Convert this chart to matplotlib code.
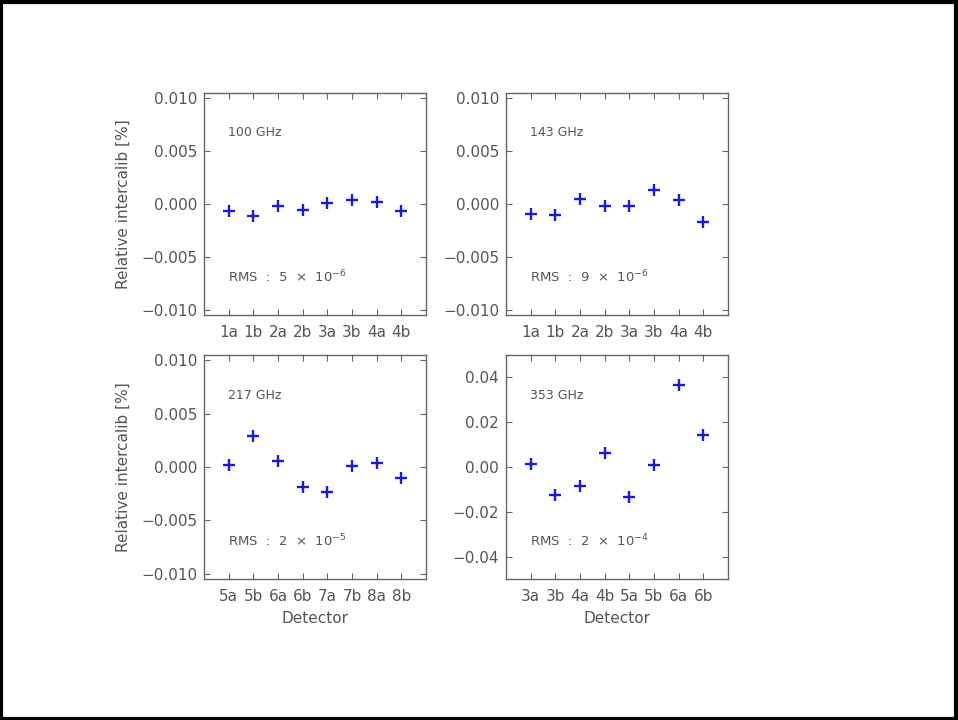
import matplotlib
matplotlib.use("Agg")
import matplotlib.pyplot as plt
from matplotlib.patches import Rectangle

detectors_100 = ["1a", "1b", "2a", "2b", "3a", "3b", "4a", "4b"]
values_100 = [-0.0007, -0.0011, -0.0002, -0.0006, 0.0001, 0.0004, 0.0002, -0.0007]
detectors_143 = ["1a", "1b", "2a", "2b", "3a", "3b", "4a", "4b"]
values_143 = [-0.0009, -0.0010, 0.0005, -0.0002, -0.0002, 0.0013, 0.0004, -0.0017]
detectors_217 = ["5a", "5b", "6a", "6b", "7a", "7b", "8a", "8b"]
values_217 = [0.0002, 0.0029, 0.0006, -0.0019, -0.0023, 0.0001, 0.0004, -0.0010]
detectors_353 = ["3a", "3b", "4a", "4b", "5a", "5b", "6a", "6b"]
values_353 = [0.0013, -0.0124, -0.0085, 0.0063, -0.0136, 0.0007, 0.0365, 0.0143]
freq_labels = ["100 GHz", "143 GHz", "217 GHz", "353 GHz"]
rms_labels = [r"RMS  :  5  $\times$  10$^{-6}$", r"RMS  :  9  $\times$  10$^{-6}$",
              r"RMS  :  2  $\times$  10$^{-5}$", r"RMS  :  2  $\times$  10$^{-4}$"]
y_ticks_small = [-0.010, -0.005, 0.000, 0.005, 0.010]
y_ticks_large = [-0.04, -0.02, 0.00, 0.02, 0.04]

W, H = 958, 720
fig = plt.figure(figsize=(W / 100, H / 100), dpi=100)
plt.rcParams['mathtext.default'] = 'regular'
textcol = "#555555"
fs = 11

fig.patches.append(Rectangle((1 / W, 1.5 / H), (W - 3) / W, (H - 3.5) / H,
                             transform=fig.transFigure, fill=False,
                             edgecolor="black", linewidth=3))

def ax_rect(x0, y0, x1, y1):
    return [x0 / W, 1 - y1 / H, (x1 - x0) / W, (y1 - y0) / H]

rects = [ax_rect(204, 93, 426, 315), ax_rect(506, 93, 728, 315),
         ax_rect(204, 355, 426, 579), ax_rect(506, 355, 728, 579)]
datasets = [(detectors_100, values_100), (detectors_143, values_143),
            (detectors_217, values_217), (detectors_353, values_353)]

for i, (rect, (dets, vals)) in enumerate(zip(rects, datasets)):
    ax = fig.add_axes(rect)
    x = list(range(1, len(dets) + 1))
    ax.plot(x, vals, linestyle="none", marker="+", color="#1a1ad8",
            markersize=9, markeredgewidth=1.7)
    ax.set_xlim(0, 9)
    if i == 3:
        ax.set_ylim(-0.05, 0.05)
        ax.set_yticks(y_ticks_large)
        ax.set_yticklabels([f"{v:.2f}".replace("-", "\u2212") for v in y_ticks_large])
    else:
        ax.set_ylim(-0.0105, 0.0105)
        ax.set_yticks(y_ticks_small)
        ax.set_yticklabels([f"{v:.3f}".replace("-", "\u2212") for v in y_ticks_small])
    ax.set_xticks(x)
    ax.set_xticklabels(dets)
    ax.tick_params(axis="both", direction="in", length=4, width=0.8,
                   colors="#666666", labelcolor=textcol, labelsize=fs,
                   top=True, right=True, pad=5)
    ax.tick_params(axis="x", pad=7)
    for sp in ax.spines.values():
        sp.set_color("#666666")
        sp.set_linewidth(1.0)
    ax.text(0.11, 0.82, freq_labels[i], transform=ax.transAxes, fontsize=9,
            color=textcol, va="center", ha="left")
    ax.text(0.11, 0.17, rms_labels[i], transform=ax.transAxes, fontsize=9.5,
            color=textcol, va="center", ha="left")
    if i in (0, 2):
        ax.set_ylabel("Relative intercalib [%]", fontsize=fs, color=textcol,
                      labelpad=7)
    if i in (2, 3):
        ax.set_xlabel("Detector", fontsize=fs, color=textcol, labelpad=5)

fig.savefig("out.png", dpi=100)
